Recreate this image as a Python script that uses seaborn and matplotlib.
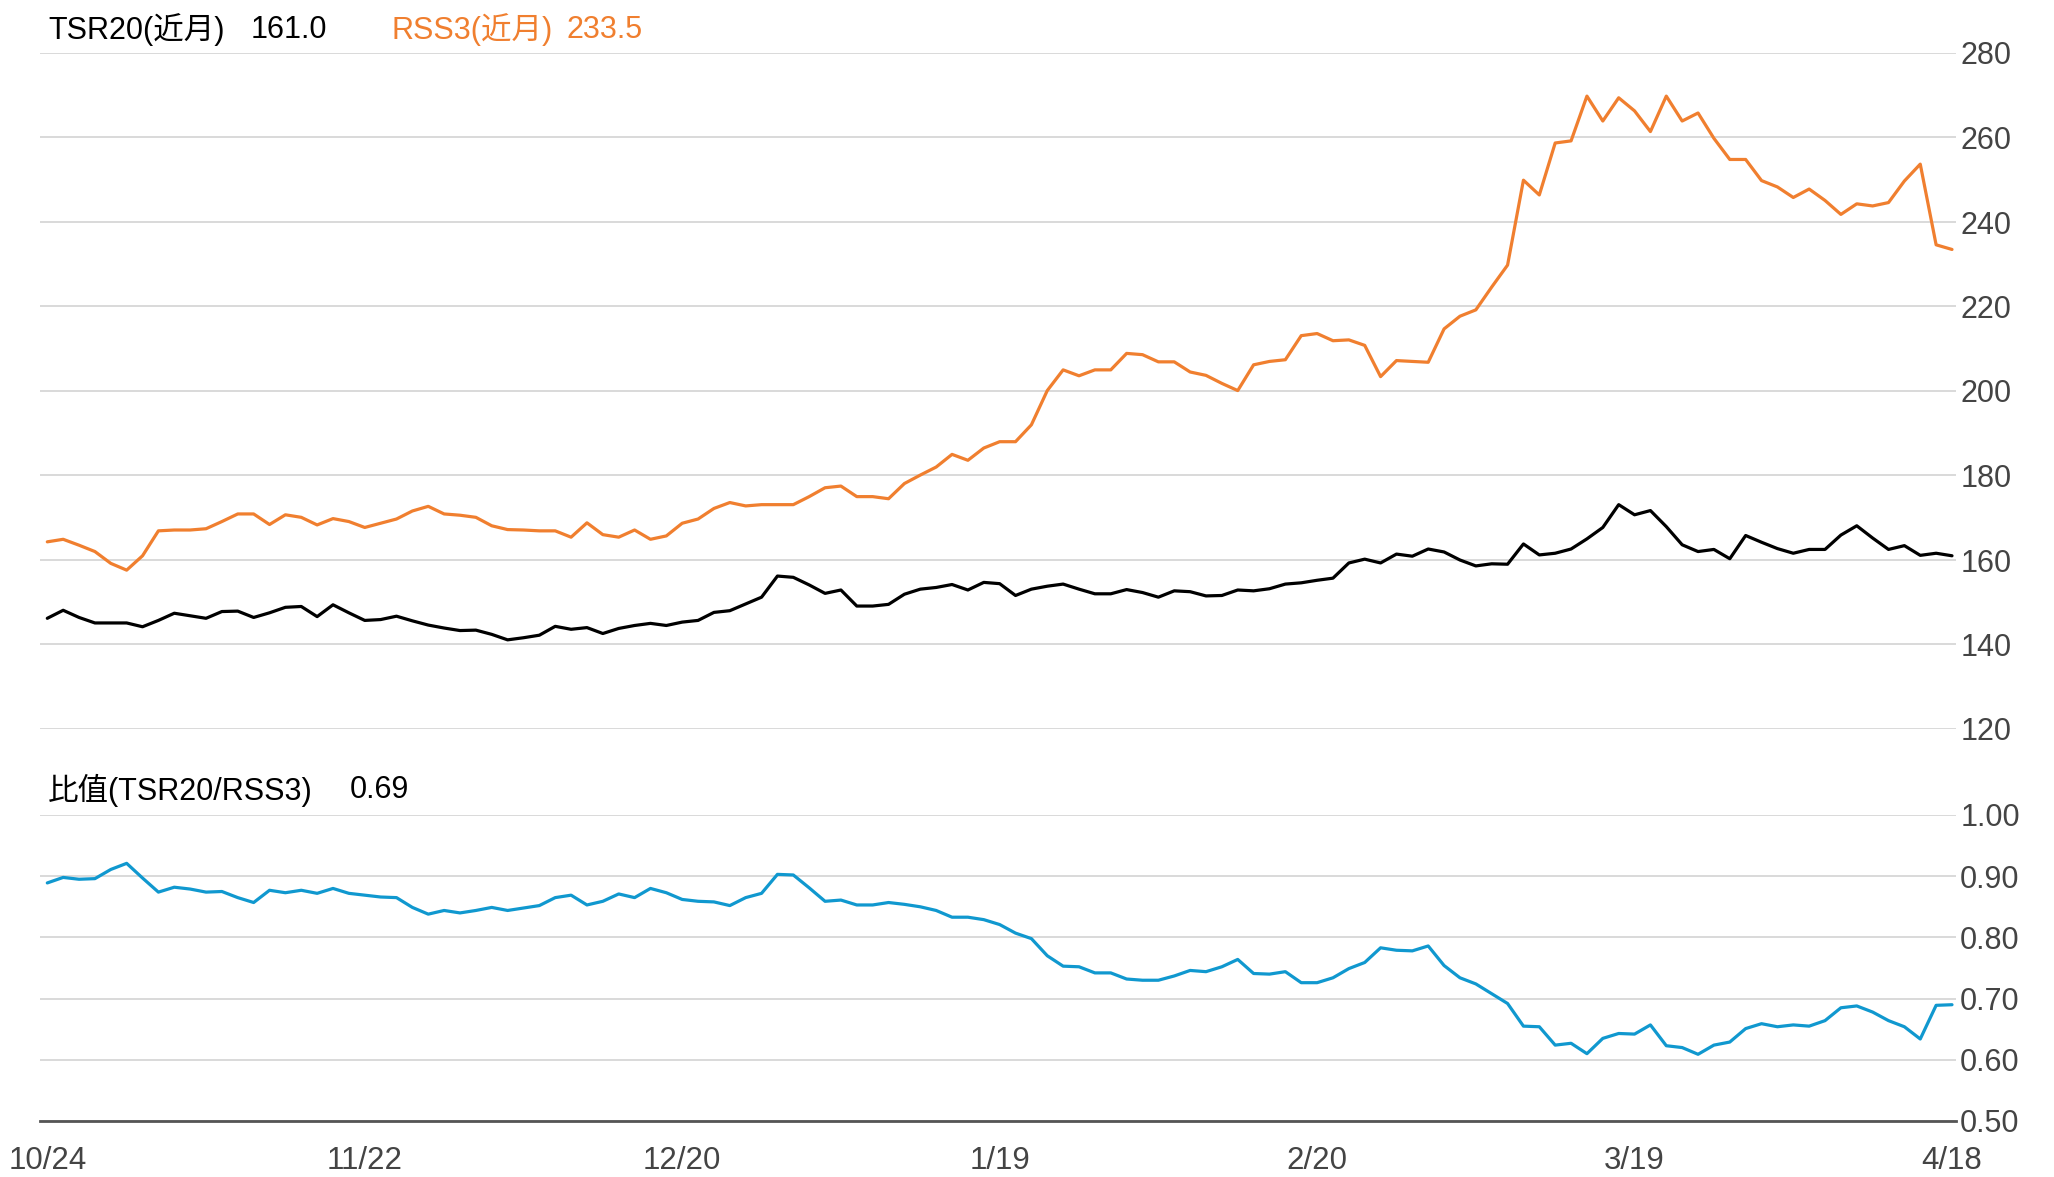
import matplotlib

matplotlib.use("Agg")
import matplotlib.pyplot as plt
from matplotlib.ticker import FormatStrFormatter
import numpy as np
import pandas as pd
import seaborn as sns


TICK_LABELS = ["10/24", "11/22", "12/20", "1/19", "2/20", "3/19", "4/18"]
TICK_STEP = 20

TSR20 = [
    146.2, 148.1, 146.4, 145.1, 145.1, 145.1, 144.2, 145.7, 147.4, 146.8,
    146.2, 147.8, 147.9, 146.4, 147.5, 148.8, 149.0, 146.6, 149.4, 147.5,
    145.7, 145.9, 146.7, 145.6, 144.6, 143.9, 143.3, 143.4, 142.4, 141.1,
    141.6, 142.2, 144.3, 143.6, 144.0, 142.6, 143.8, 144.5, 145.0, 144.5,
    145.3, 145.7, 147.6, 148.0, 149.6, 151.2, 156.2, 155.9, 154.1, 152.1,
    152.9, 149.1, 149.1, 149.5, 151.9, 153.1, 153.5, 154.2, 152.9, 154.7,
    154.4, 151.6, 153.1, 153.8, 154.3, 153.1, 152.0, 152.0, 153.0, 152.3,
    151.2, 152.7, 152.5, 151.5, 151.6, 152.9, 152.7, 153.2, 154.3, 154.6,
    155.2, 155.7, 159.3, 160.2, 159.3, 161.4, 160.9, 162.6, 161.9, 160.0,
    158.6, 159.1, 159.0, 163.8, 161.2, 161.6, 162.6, 165.0, 167.7, 173.1,
    170.7, 171.7, 167.9, 163.6, 162.0, 162.5, 160.3, 165.8, 164.2, 162.7,
    161.6, 162.5, 162.5, 165.9, 168.1, 165.2, 162.5, 163.4, 161.1, 161.6,
    161.0,
]

RSS3 = [
    164.3, 164.9, 163.5, 162.0, 159.2, 157.6, 161.0, 166.9, 167.1, 167.1,
    167.4, 169.1, 170.9, 170.9, 168.4, 170.7, 170.1, 168.3, 169.8, 169.1,
    167.7, 168.7, 169.7, 171.6, 172.7, 170.9, 170.6, 170.1, 168.1, 167.2,
    167.1, 166.9, 166.9, 165.4, 168.8, 166.0, 165.4, 167.1, 164.9, 165.7,
    168.7, 169.7, 172.2, 173.6, 172.8, 173.1, 173.1, 173.1, 175.0, 177.1,
    177.5, 175.0, 175.0, 174.5, 178.1, 180.1, 182.0, 185.0, 183.6, 186.5,
    188.0, 188.0, 192.0, 200.1, 205.0, 203.6, 205.0, 205.0, 208.9, 208.6,
    206.9, 206.9, 204.5, 203.7, 201.8, 200.1, 206.2, 207.0, 207.4, 213.1,
    213.6, 211.9, 212.1, 210.8, 203.4, 207.2, 207.0, 206.8, 214.7, 217.7,
    219.2, 224.6, 229.8, 249.9, 246.4, 258.7, 259.2, 269.8, 263.9, 269.4,
    266.3, 261.4, 269.8, 263.9, 265.8, 259.8, 254.8, 254.8, 249.8, 248.3,
    245.8, 247.8, 245.1, 241.8, 244.3, 243.8, 244.6, 249.7, 253.7, 234.6,
    233.5,
]

RATIO = [
    0.889, 0.898, 0.895, 0.896, 0.911, 0.921, 0.897, 0.874, 0.882, 0.879,
    0.874, 0.875, 0.865, 0.857, 0.877, 0.873, 0.877, 0.872, 0.880, 0.872,
    0.869, 0.866, 0.865, 0.849, 0.838, 0.844, 0.840, 0.844, 0.849, 0.844,
    0.848, 0.852, 0.865, 0.869, 0.853, 0.859, 0.871, 0.865, 0.880, 0.873,
    0.862, 0.859, 0.858, 0.852, 0.865, 0.872, 0.903, 0.902, 0.881, 0.859,
    0.861, 0.853, 0.853, 0.857, 0.854, 0.850, 0.844, 0.833, 0.833, 0.829,
    0.821, 0.807, 0.798, 0.770, 0.753, 0.752, 0.742, 0.742, 0.732, 0.730,
    0.730, 0.737, 0.746, 0.744, 0.752, 0.764, 0.741, 0.740, 0.744, 0.726,
    0.726, 0.734, 0.749, 0.759, 0.783, 0.779, 0.778, 0.786, 0.754, 0.734,
    0.724, 0.708, 0.692, 0.655, 0.654, 0.624, 0.627, 0.610, 0.635, 0.643,
    0.642, 0.657, 0.623, 0.620, 0.609, 0.624, 0.629, 0.651, 0.659, 0.654,
    0.657, 0.655, 0.664, 0.685, 0.688, 0.678, 0.664, 0.654, 0.634, 0.689,
    0.690,
]

ORANGE = "#f07f2f"
BLUE = "#1098cf"
GRID = "#d9d9d9"
TEXT = "#444444"

sns.set_theme(style="white")
plt.rcParams["font.family"] = ["Liberation Sans", "Noto Sans CJK JP", "DejaVu Sans"]

frame = pd.DataFrame({
    "idx": np.arange(len(TSR20)),
    "TSR20": TSR20,
    "RSS3": RSS3,
    "ratio": RATIO,
})

W, H = 2054, 1177
fig = plt.figure(figsize=(W / 100, H / 100), dpi=100)
x0_px, x1_px = 40, 1956
left = x0_px / W
width = (x1_px - x0_px) / W
ax_top = fig.add_axes([left, 1 - 729 / H, width, (729 - 53) / H])
ax_bot = fig.add_axes([left, 1 - 1121 / H, width, (1121 - 815) / H])

sns.lineplot(data=frame, x="idx", y="RSS3", color=ORANGE, lw=2.3, ax=ax_top)
sns.lineplot(data=frame, x="idx", y="TSR20", color="black", lw=2.3, ax=ax_top)
sns.lineplot(data=frame, x="idx", y="ratio", color=BLUE, lw=2.3, ax=ax_bot)

n = len(TSR20)
step_px = (1952 - 47.3) / (n - 1)
xlim = (-(47.3 - x0_px) / step_px, n - 1 + (x1_px - 1952) / step_px)
tick_pos = np.arange(0, n, TICK_STEP)

for ax in (ax_top, ax_bot):
    ax.set_xlim(*xlim)
    ax.set_xlabel("")
    ax.set_ylabel("")
    ax.yaxis.tick_right()
    ax.grid(axis="y", color=GRID, lw=1.4)
    ax.grid(axis="x", visible=False)
    for side in ("top", "left", "right", "bottom"):
        ax.spines[side].set_visible(False)
    ax.tick_params(axis="y", length=0, pad=3, labelsize=22, labelcolor=TEXT)
    ax.set_axisbelow(True)

ax_top.set_ylim(120, 280)
ax_top.set_yticks(np.arange(120, 281, 20))
ax_top.set_xticks([])

ax_bot.set_ylim(0.5, 1.0)
ax_bot.set_yticks(np.arange(0.5, 1.01, 0.1))
ax_bot.yaxis.set_major_formatter(FormatStrFormatter("%.2f"))
ax_bot.spines["bottom"].set_visible(True)
ax_bot.spines["bottom"].set_color("#555555")
ax_bot.spines["bottom"].set_linewidth(2.0)
ax_bot.set_xticks(tick_pos)
ax_bot.set_xticklabels(TICK_LABELS)
ax_bot.tick_params(axis="x", length=0, pad=18, labelsize=22.5, labelcolor=TEXT)

# header labels
y_head = 1 - 30 / H
fig.text(48 / W, y_head, "TSR20(近月)", fontsize=22, color="black", va="center")
fig.text(251 / W, y_head, f"{TSR20[-1]:.1f}", fontsize=22, color="black", va="center")
fig.text(392 / W, y_head, "RSS3(近月)", fontsize=22, color=ORANGE, va="center")
fig.text(567 / W, y_head, f"{RSS3[-1]:.1f}", fontsize=22, color=ORANGE, va="center")

y_ratio = 1 - 790 / H
fig.text(48 / W, y_ratio, "比值(TSR20/RSS3)", fontsize=22, color="black", va="center")
fig.text(350 / W, y_ratio, f"{RATIO[-1]:.2f}", fontsize=22, color="black", va="center")

fig.savefig("out.png", dpi=100)
